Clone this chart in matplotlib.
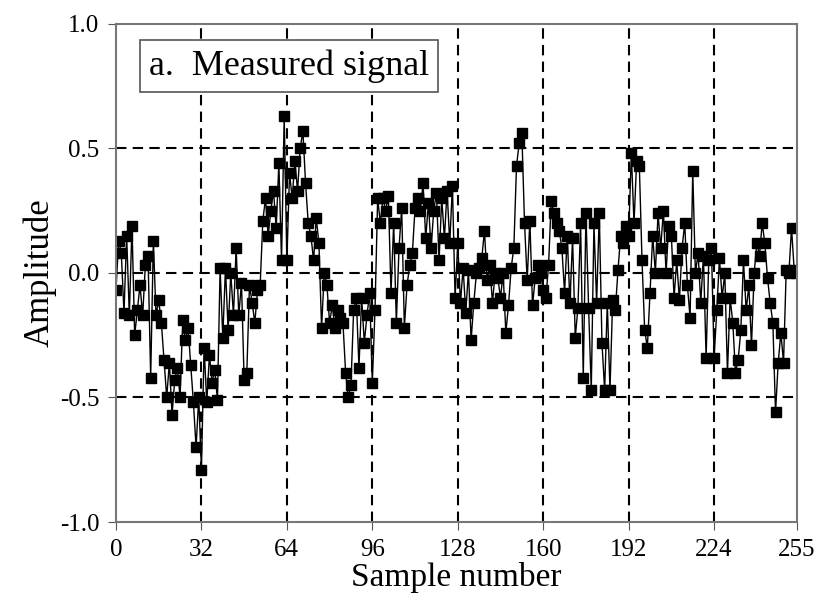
import numpy as np
import matplotlib
matplotlib.use("Agg")
import matplotlib.pyplot as plt

# valores, blocos de 32 amostras
block0 = [-0.07, 0.13, 0.08, -0.16, 0.15, -0.17, 0.19, -0.25, -0.15, -0.05, -0.17, 0.03, 0.07, -0.42, 0.13, -0.17,
          -0.11, -0.20, -0.35, -0.50, -0.36, -0.57, -0.43, -0.38, -0.50, -0.19, -0.27, -0.22, -0.37, -0.52, -0.70, -0.50]
block1 = [-0.79, -0.30, -0.52, -0.33, -0.44, -0.39, -0.51, 0.02, -0.26, 0.02, -0.23, 0.00, -0.17, 0.10, -0.17, -0.04,
          -0.43, -0.40, -0.05, -0.12, -0.20, -0.07, -0.05, 0.21, 0.30, 0.15, 0.25, 0.33, 0.18, 0.44, 0.05, 0.63]
block2 = [0.05, 0.40, 0.30, 0.45, 0.33, 0.50, 0.57, 0.36, 0.20, 0.15, 0.05, 0.22, 0.12, -0.22, 0.00, -0.05,
          -0.20, -0.13, -0.22, -0.15, -0.18, -0.20, -0.40, -0.50, -0.45, -0.15, -0.10, -0.38, -0.10, -0.28, -0.17, -0.08]
block3 = [-0.44, -0.15, 0.30, 0.20, 0.30, 0.25, 0.31, -0.08, 0.20, -0.20, 0.10, 0.26, -0.22, -0.05, 0.03, 0.08,
          0.26, 0.30, 0.25, 0.36, 0.14, 0.28, 0.10, 0.25, 0.32, 0.05, 0.30, 0.14, 0.33, 0.12, 0.35, -0.10]
block4 = [0.12, -0.12, 0.02, -0.16, 0.01, -0.27, -0.12, 0.00, 0.02, 0.06, 0.17, -0.03, 0.03, -0.12, 0.00, -0.02,
          -0.10, 0.00, -0.24, -0.13, 0.02, 0.10, 0.43, 0.52, 0.56, 0.20, -0.03, 0.21, -0.13, -0.02, 0.03, 0.00]
block5 = [-0.07, -0.10, 0.03, 0.29, 0.24, 0.20, 0.17, 0.10, -0.08, 0.15, -0.12, 0.14, -0.26, -0.14, 0.20, -0.42,
          0.24, -0.14, -0.47, 0.20, -0.12, 0.24, -0.28, -0.47, -0.12, -0.47, -0.11, -0.15, 0.01, 0.15, 0.12, 0.19]
block6 = [0.15, 0.48, 0.20, 0.45, 0.43, 0.05, -0.23, -0.30, -0.08, 0.15, 0.00, 0.24, 0.10, 0.25, 0.00, 0.19,
          0.15, -0.10, 0.05, -0.11, 0.10, 0.20, -0.05, -0.18, 0.41, 0.00, 0.08, -0.12, 0.07, -0.34, 0.05, 0.10]
block7 = [-0.34, -0.15, 0.06, -0.10, 0.00, -0.40, -0.10, -0.20, -0.40, -0.35, -0.23, 0.05, -0.15, -0.05, -0.29, 0.00,
          0.12, 0.07, 0.20, 0.12, -0.02, -0.12, -0.20, -0.56, -0.36, -0.24, -0.36, 0.01, 0.00, 0.18, 0.01, 0.00]

amplitude = block0 + block1 + block2 + block3 + block4 + block5 + block6 + block7
samples = np.arange(len(amplitude))

x_ticks = [0, 32, 64, 96, 128, 160, 192, 224, 255]
x_labels = ['0', '32', '64', '96', '128', '160', '192', '224', '255']
y_ticks = [-1.0, -0.5, 0.0, 0.5, 1.0]
y_labels = ['-1.0', '-0.5', '0.0', '0.5', '1.0']

plt.rcParams['font.family'] = ['Liberation Serif', 'DejaVu Serif']

fig = plt.figure(figsize=(8.19, 6.12), dpi=100)
ax = fig.add_axes([0.1416, 0.147, 0.8314, 0.814])

ax.plot(samples, amplitude, color='black', linewidth=1.0, marker='s',
        markersize=7.5, markerfacecolor='black', markeredgecolor='black')

ax.set_xlim(0, 255)
ax.set_ylim(-1.0, 1.0)
ax.set_xticks(x_ticks)
ax.set_xticklabels(x_labels)
ax.set_yticks(y_ticks)
ax.set_yticklabels(y_labels)
ax.tick_params(labelsize=18, direction='out', length=6, color='#555555', pad=6)

# grade tracejada
for xv in x_ticks[1:-1]:
    ax.axvline(xv, color='black', linestyle=(0, (5, 3)), linewidth=1.5, zorder=0)
for yv in [-0.5, 0.0, 0.5]:
    ax.axhline(yv, color='black', linestyle=(0, (5, 3)), linewidth=1.5, zorder=0)

for s in ax.spines.values():
    s.set_color('#777777')
    s.set_linewidth(1.5)

ax.set_xlabel('Sample number', fontsize=24, labelpad=1)
ax.set_ylabel('Amplitude', fontsize=25, labelpad=2)

ax.text(0.048, 0.915, 'a.  Measured signal', transform=ax.transAxes, fontsize=26,
        va='center', ha='left',
        bbox=dict(boxstyle='square,pad=0.25', facecolor='white', edgecolor='#555555', linewidth=1.2))

plt.savefig('out.png', dpi=100)
